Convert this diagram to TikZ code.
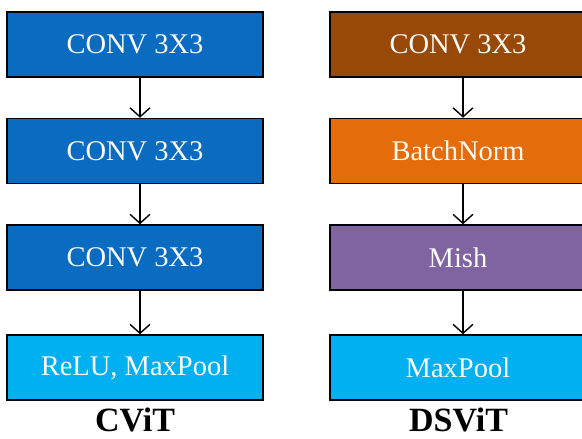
\documentclass[tikz,border=0pt]{standalone}
\usepackage{fontspec}
\setmainfont{Liberation Serif}
\usetikzlibrary{arrows.meta}
\definecolor{dblue}{HTML}{0A6CC1}
\definecolor{lblue}{HTML}{00B0F0}
\definecolor{brownc}{HTML}{984807}
\definecolor{orangec}{HTML}{E46C0A}
\definecolor{purplec}{HTML}{8064A2}
\definecolor{txtc}{HTML}{FAFAF5}
\tikzset{
  blk/.style={draw=black, line width=1.5pt, minimum width=256pt, minimum height=65pt,
    inner sep=0pt, text=txtc, font=\fontsize{28.5}{28.5}\selectfont},
  conn/.style={line width=1.4pt, -{Straight Barb[length=9pt,width=20pt,line width=1.4pt]}},
  ttl/.style={font=\fontsize{34}{34}\selectfont\bfseries, anchor=base, inner sep=0pt}
}
\begin{document}
\begin{tikzpicture}[x=1pt,y=1pt]
\useasboundingbox (0,0) rectangle (582,439);
\clip (0,0) rectangle (582,439);
\fill[white] (0,0) rectangle (582,439);
% left column
\node[blk, fill=dblue] (a1) at (135,394.5) {CONV 3X3};
\node[blk, fill=dblue] (a2) at (135,288) {CONV 3X3};
\node[blk, fill=dblue] (a3) at (135,181.5) {CONV 3X3};
\node[blk, fill=lblue] (a4) at (135,71.5) {ReLU, MaxPool};
\draw[conn] ([xshift=5pt]a1.south) -- ([xshift=5pt]a2.north);
\draw[conn] ([xshift=5pt]a2.south) -- ([xshift=5pt]a3.north);
\draw[conn] ([xshift=5pt]a3.south) -- ([xshift=5pt]a4.north);
\node[ttl] (t1) at (135,7) {CViT};
% right column
\node[blk, fill=brownc] (b1) at (458,394.5) {CONV 3X3};
\node[blk, fill=orangec] (b2) at (458,288) {BatchNorm};
\node[blk, fill=purplec] (b3) at (458,181.5) {Mish};
\node[blk, fill=lblue] (b4) at (458,71.5) {MaxPool};
\draw[conn] ([xshift=5pt]b1.south) -- ([xshift=5pt]b2.north);
\draw[conn] ([xshift=5pt]b2.south) -- ([xshift=5pt]b3.north);
\draw[conn] ([xshift=5pt]b3.south) -- ([xshift=5pt]b4.north);
\node[ttl] (t2) at (458.5,7) {DSViT};
\end{tikzpicture}
\end{document}
